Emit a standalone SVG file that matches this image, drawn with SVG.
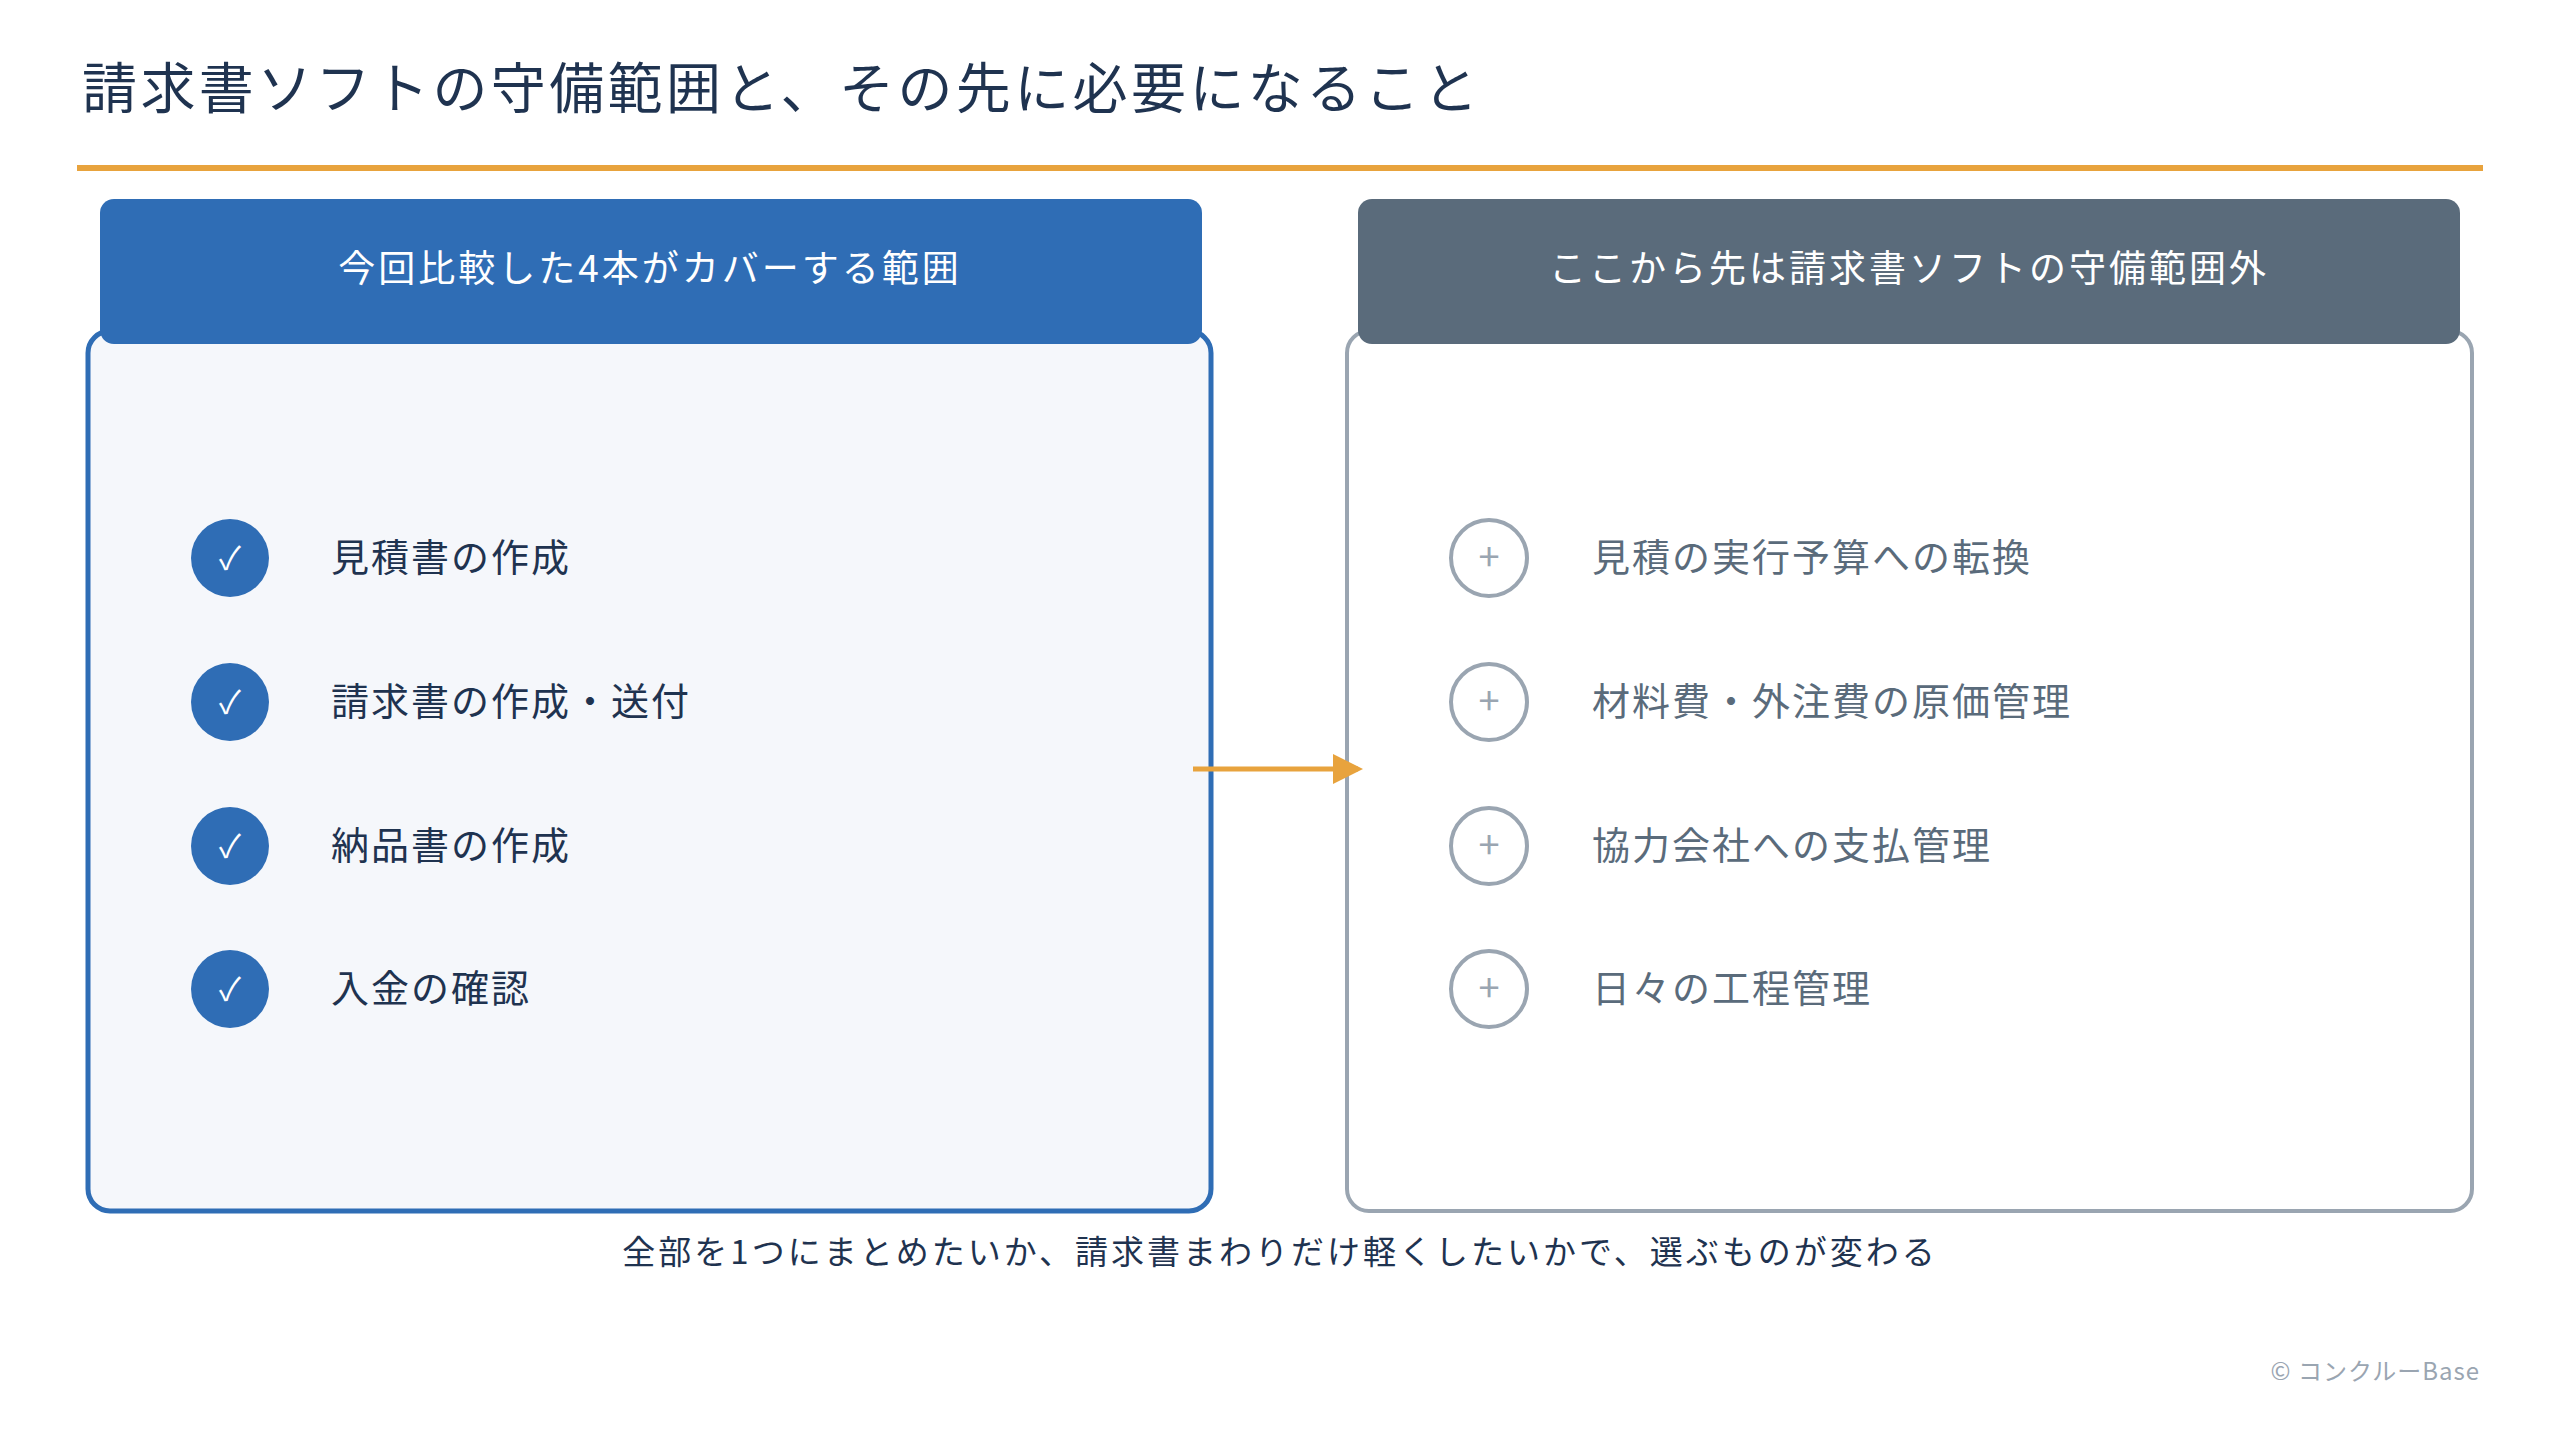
<svg xmlns="http://www.w3.org/2000/svg" width="2560" height="1440" viewBox="0 0 2560 1440">
<style>
text{font-family:"Noto Sans CJK JP","Noto Sans",sans-serif}
.hd{fill:#fff;font-size:37px;text-anchor:middle;letter-spacing:3px}
.li{fill:#1F3350;font-size:38px;letter-spacing:2px}
.ri{fill:#5A6B7B;font-size:38px;letter-spacing:2px}
.ck{fill:#2F6DB5}
.pl{fill:#fff;stroke:#9AA5B1;stroke-width:4}
</style>
<defs><marker id="ah" markerWidth="6" markerHeight="6" refX="5" refY="3" orient="auto" markerUnits="strokeWidth"><path d="M0,0L6,3L0,6z" fill="#E8A33D"/></marker></defs>
<rect width="2560" height="1440" fill="#fff"/>
<text x="82" y="108" font-size="55" fill="#1F3350" letter-spacing="3.4">請求書ソフトの守備範囲と、その先に必要になること</text>
<rect x="77" y="165" width="2406" height="6" fill="#E8A33D"/>
<g id="left">
<rect x="88" y="331" width="1123" height="880" rx="22" fill="#F5F7FB" stroke="#2F6DB5" stroke-width="5"/>
<rect x="100" y="199" width="1102" height="145" rx="14" fill="#2F6DB5"/>
<text class="hd" x="650" y="282">今回比較した4本がカバーする範囲</text>
<g id="l1"><circle class="ck" cx="230" cy="558" r="39"/><text x="230" y="570" fill="#fff" font-size="32" text-anchor="middle">✓</text><text class="li" x="331" y="571">見積書の作成</text></g>
<g id="l2"><circle class="ck" cx="230" cy="702" r="39"/><text x="230" y="714" fill="#fff" font-size="32" text-anchor="middle">✓</text><text class="li" x="331" y="715">請求書の作成・送付</text></g>
<g id="l3"><circle class="ck" cx="230" cy="846" r="39"/><text x="230" y="858" fill="#fff" font-size="32" text-anchor="middle">✓</text><text class="li" x="331" y="859">納品書の作成</text></g>
<g id="l4"><circle class="ck" cx="230" cy="989" r="39"/><text x="230" y="1001" fill="#fff" font-size="32" text-anchor="middle">✓</text><text class="li" x="331" y="1002">入金の確認</text></g>
</g>
<g id="right">
<rect x="1347" y="331" width="1125" height="880" rx="22" fill="#fff" stroke="#9AA5B1" stroke-width="4"/>
<rect x="1358" y="199" width="1102" height="145" rx="14" fill="#5A6B7B"/>
<text class="hd" x="1909" y="282">ここから先は請求書ソフトの守備範囲外</text>
<g id="r1"><circle class="pl" cx="1489" cy="558" r="38"/><text x="1489" y="571" fill="#9AA5B1" font-size="38" text-anchor="middle">+</text><text class="ri" x="1592" y="571">見積の実行予算への転換</text></g>
<g id="r2"><circle class="pl" cx="1489" cy="702" r="38"/><text x="1489" y="715" fill="#9AA5B1" font-size="38" text-anchor="middle">+</text><text class="ri" x="1592" y="715">材料費・外注費の原価管理</text></g>
<g id="r3"><circle class="pl" cx="1489" cy="846" r="38"/><text x="1489" y="859" fill="#9AA5B1" font-size="38" text-anchor="middle">+</text><text class="ri" x="1592" y="859">協力会社への支払管理</text></g>
<g id="r4"><circle class="pl" cx="1489" cy="989" r="38"/><text x="1489" y="1002" fill="#9AA5B1" font-size="38" text-anchor="middle">+</text><text class="ri" x="1592" y="1002">日々の工程管理</text></g>
</g>
<g id="connectors">
<line x1="1193" y1="769" x2="1358" y2="769" stroke="#E8A33D" stroke-width="5" marker-end="url(#ah)"/>
</g>
<text x="1280" y="1264" font-size="33" fill="#1F3350" text-anchor="middle" letter-spacing="3">全部を1つにまとめたいか、請求書まわりだけ軽くしたいかで、選ぶものが変わる</text>
<text x="2480" y="1380" font-size="24" fill="#9AA5B1" text-anchor="end" letter-spacing="1">© コンクルーBase</text>
</svg>
